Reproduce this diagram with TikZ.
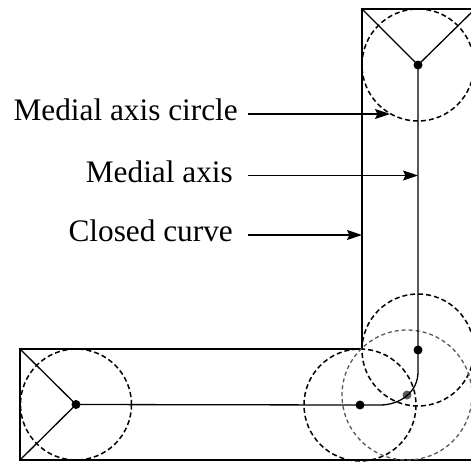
\documentclass[tikz,border=0pt]{standalone}
\usepackage{fontspec}
\setmainfont{Liberation Serif}
\usetikzlibrary{arrows.meta}
\begin{document}
\begin{tikzpicture}[x=1pt,y=-1pt,
  outline/.style={line width=2.8pt, line join=miter},
  axisline/.style={line width=1.3pt},
  mcircle/.style={dash pattern=on 5pt off 3pt, line width=1.5pt},
  gcircle/.style={dash pattern=on 4pt off 3pt, line width=1.3pt, black!65},
  dotnode/.style={circle, fill=black, inner sep=0pt, minimum size=9pt},
  gdot/.style={circle, fill=black!65, inner sep=0pt, minimum size=9pt},
  label/.style={font=\fontsize{31.3}{36}\selectfont, inner sep=0pt, anchor=base east},
  pointer/.style={line width=1.6pt, -{Stealth[length=15pt,width=10pt,inset=2.5pt]}}]
\clip (0,0) rectangle (471,464);
\useasboundingbox (0,0) rectangle (471,464);

% closed curve (L shape)
\draw[outline] (20,349) -- (362,349) -- (362,9) -- (475,9) -- (475,460) -- (20,460) -- cycle;

% medial axis circles
\draw[mcircle] (418,65) circle (56);
\draw[mcircle] (76,404.5) circle (55.5);
\draw[mcircle] (360,405) circle (56);
\draw[mcircle] (418,350) circle (56);
\draw[gcircle] (407,395) circle (65);

% medial axis points
\node[dotnode] (top) at (418,65) {};
\node[dotnode] (left) at (76,404.5) {};
\node[dotnode] (b1) at (360,405) {};
\node[gdot] (b2) at (407,395) {};
\node[dotnode] (b3) at (418,350) {};
\coordinate (tl) at (362,9);
\coordinate (tr) at (475,9);
\coordinate (ltl) at (20,349);
\coordinate (lbl) at (20,460);

% medial axis
\draw[axisline] (tl) -- (top.center) -- (tr);
\draw[axisline] (ltl) -- (left.center) -- (lbl);
\draw[axisline] (top.center) -- (b3.center) -- (418,372)
  .. controls (418,392) and (400,405) .. (380,405) -- (b1.center) -- (left.center);

% labels and pointers
\node[label] (t1) at (238,120.5) {Medial axis circle};
\node[label] (t2) at (233,182) {Medial axis};
\node[label] (t3) at (233,241.5) {Closed curve};
\coordinate (s1) at (248,114);
\coordinate (s2) at (248,175.5);
\coordinate (s3) at (248,235);
\coordinate (e1) at (390,114);
\coordinate (e2) at (418,175.5);
\coordinate (e3) at (362,235);
\draw[pointer] (s1) -- (e1);
\draw[pointer] (s2) -- (e2);
\draw[pointer] (s3) -- (e3);
\end{tikzpicture}
\end{document}
